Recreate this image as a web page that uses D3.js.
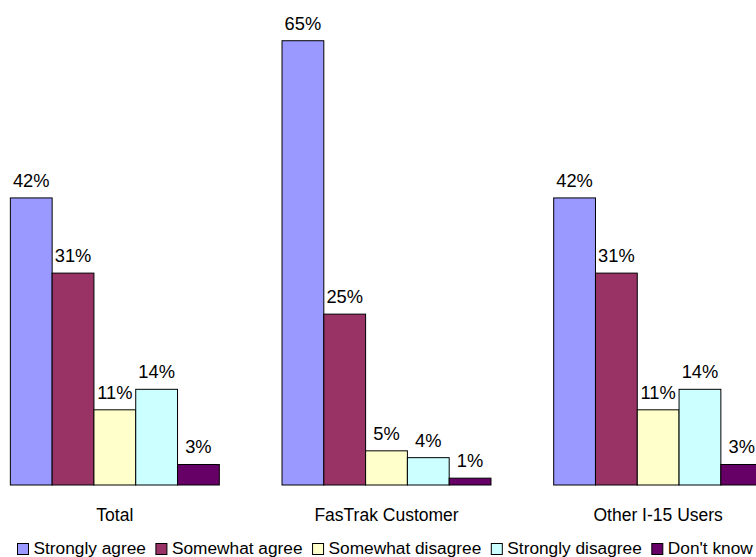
<!DOCTYPE html>
<html>
<head>
<meta charset="utf-8">
<script src="https://cdn.jsdelivr.net/npm/d3@7"></script>
<style>
  html, body { margin: 0; padding: 0; background: #fff; }
  svg { display: block; }
  text { font-family: "Liberation Sans", Arial, sans-serif; fill: #000; }
</style>
</head>
<body>
<svg id="chart" width="756" height="557"></svg>
<script>
const categories = ["Total", "FasTrak Customer", "Other I-15 Users"];
const seriesNames = ["Strongly agree", "Somewhat agree", "Somewhat disagree", "Strongly disagree", "Don't know"];
const seriesColors = ["#9999FF", "#993366", "#FFFFCC", "#CCFFFF", "#660066"];
const stronglyAgree = [42, 65, 42];
const somewhatAgree = [31, 25, 31];
const somewhatDisagree = [11, 5, 11];
const stronglyDisagree = [14, 4, 14];
const dontKnow = [3, 1, 3];
const seriesValues = [stronglyAgree, somewhatAgree, somewhatDisagree, stronglyDisagree, dontKnow];

const svg = d3.select("#chart");

const x0 = d3.scaleBand()
  .domain(categories)
  .range([-21, 794])
  .paddingInner(0.2308)
  .paddingOuter(0.1154);

const x1 = d3.scaleBand()
  .domain(seriesNames)
  .range([0, x0.bandwidth()])
  .padding(0);

const y = d3.scaleLinear().domain([0, 70]).range([485, 485 - 70 * 6.835]);

const rows = [];
categories.forEach((c, ci) => {
  seriesNames.forEach((s, si) => {
    rows.push({ cat: c, series: s, value: seriesValues[si][ci], color: seriesColors[si] });
  });
});

const g = svg.append("g");

g.selectAll("rect.bar")
  .data(rows)
  .join("rect")
  .attr("class", "bar")
  .attr("x", d => x0(d.cat) + x1(d.series))
  .attr("y", d => y(d.value))
  .attr("width", x1.bandwidth())
  .attr("height", d => y(0) - y(d.value))
  .attr("fill", d => d.color)
  .attr("stroke", "#000")
  .attr("stroke-width", 1);

g.selectAll("text.val")
  .data(rows)
  .join("text")
  .attr("class", "val")
  .attr("x", d => x0(d.cat) + x1(d.series) + x1.bandwidth() / 2)
  .attr("y", d => y(d.value) - 11)
  .attr("text-anchor", "middle")
  .style("font-size", "18.3px")
  .text(d => d.value + "%");

// category axis labels (no axis line)
const xAxis = d3.axisBottom(x0).tickSize(0).tickPadding(0);
const ax = svg.append("g").attr("transform", "translate(0,505)").call(xAxis);
ax.select(".domain").remove();
ax.selectAll("text")
  .attr("dy", "0.9em")
  .style("font-size", "17.5px")
  .style("font-family", "'Liberation Sans', Arial, sans-serif")
  .attr("fill", "#000");

// legend
const legend = svg.append("g");
let lx = 17.5;
seriesNames.forEach((s, i) => {
  const item = legend.append("g");
  item.append("rect")
    .attr("x", lx)
    .attr("y", 543.5)
    .attr("width", 11)
    .attr("height", 11)
    .attr("fill", seriesColors[i])
    .attr("stroke", "#000")
    .attr("stroke-width", 1);
  const t = item.append("text")
    .attr("x", lx + 16)
    .attr("y", 553.5)
    .style("font-size", "17.3px")
    .text(s);
  lx += 16 + t.node().getComputedTextLength() + 10;
});
</script>
</body>
</html>
